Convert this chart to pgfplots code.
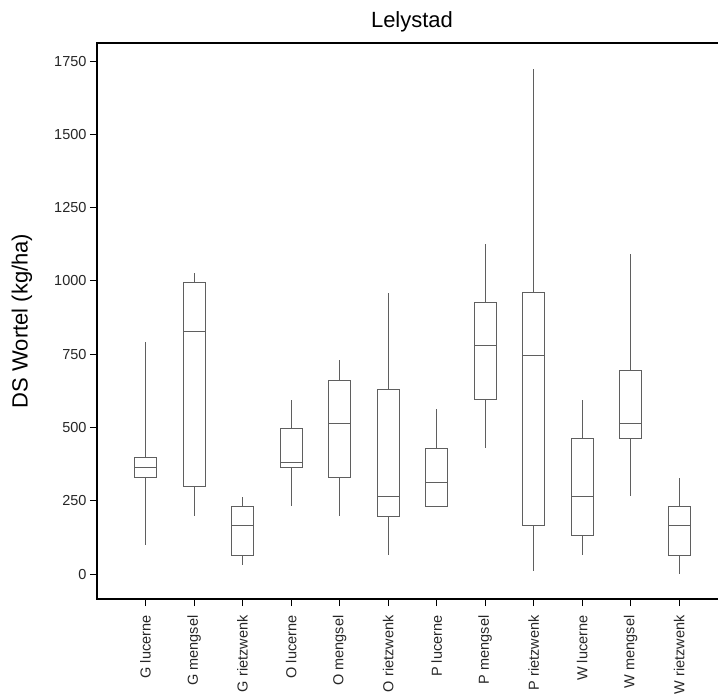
\documentclass[border=0pt]{standalone}
\usepackage{pgfplots}
\pgfplotsset{compat=1.18}
\usepgfplotslibrary{statistics}
\usepackage{fontspec}
\setmainfont{Liberation Sans}
\definecolor{boxgray}{RGB}{95,95,95}
\begin{document}
\begin{tikzpicture}
\useasboundingbox (-97pt,-95pt) rectangle (621pt,599pt);
\begin{axis}[
  at={(0,0)}, anchor=south west,
  scale only axis, width=630pt, height=556pt,
  xmin=0, xmax=12.985, ymin=-85, ymax=1812,
  axis line style={line width=1.5pt, black},
  xtick pos=left, ytick pos=left,
  tick align=outside,
  major tick length=7pt,
  tick style={black, line width=1pt},
  xtick={1,...,12},
  xticklabels={G lucerne,G mengsel,G rietzwenk,O lucerne,O mengsel,O rietzwenk,P lucerne,P mengsel,P rietzwenk,W lucerne,W mengsel,W rietzwenk},
  xticklabel style={rotate=90, anchor=east, xshift=-6pt, font=\fontsize{14.5}{17}\selectfont, text=black!85},
  ytick={0,250,...,1750},
  yticklabel style={font=\fontsize{14.5}{17}\selectfont, text=black!85},
  /pgf/number format/assume math mode=true,
  /pgf/number format/1000 sep={},
  title={Lelystad},
  title style={at={(axis description cs:0.5,1)}, anchor=base, yshift=9pt, xshift=0pt, font=\fontsize{22}{26}\selectfont},
  ylabel={DS Wortel (kg/ha)},
  every axis y label/.style={at={(axis description cs:0,0.5)}, xshift=-75pt, rotate=90, anchor=center, font=\fontsize{22}{26}\selectfont},
  boxplot/draw direction=y,
  boxplot/box extend=0.45,
  boxplot/whisker extend=0,
  clip=false,
]
\addplot[boxgray, line width=0.8pt, boxplot prepared={draw position=1, lower whisker=99, lower quartile=331, median=364, upper quartile=397, upper whisker=792}] coordinates {};
\addplot[boxgray, line width=0.8pt, boxplot prepared={draw position=2, lower whisker=198, lower quartile=298, median=828, upper quartile=994, upper whisker=1026}] coordinates {};
\addplot[boxgray, line width=0.8pt, boxplot prepared={draw position=3, lower whisker=32, lower quartile=65, median=165, upper quartile=231, upper whisker=264}] coordinates {};
\addplot[boxgray, line width=0.8pt, boxplot prepared={draw position=4, lower whisker=231, lower quartile=364, median=380, upper quartile=496, upper whisker=594}] coordinates {};
\addplot[boxgray, line width=0.8pt, boxplot prepared={draw position=5, lower whisker=198, lower quartile=331, median=514, upper quartile=662, upper whisker=730}] coordinates {};
\addplot[boxgray, line width=0.8pt, boxplot prepared={draw position=6, lower whisker=66, lower quartile=198, median=265, upper quartile=629, upper whisker=958}] coordinates {};
\addplot[boxgray, line width=0.8pt, boxplot prepared={draw position=7, lower whisker=232, lower quartile=232, median=313, upper quartile=429, upper whisker=562}] coordinates {};
\addplot[boxgray, line width=0.8pt, boxplot prepared={draw position=8, lower whisker=430, lower quartile=596, median=779, upper quartile=927, upper whisker=1125}] coordinates {};
\addplot[boxgray, line width=0.8pt, boxplot prepared={draw position=9, lower whisker=9, lower quartile=165, median=746, upper quartile=960, upper whisker=1722}] coordinates {};
\addplot[boxgray, line width=0.8pt, boxplot prepared={draw position=10, lower whisker=66, lower quartile=132, median=265, upper quartile=463, upper whisker=594}] coordinates {};
\addplot[boxgray, line width=0.8pt, boxplot prepared={draw position=11, lower whisker=265, lower quartile=463, median=514, upper quartile=695, upper whisker=1092}] coordinates {};
\addplot[boxgray, line width=0.8pt, boxplot prepared={draw position=12, lower whisker=0, lower quartile=65, median=165, upper quartile=231, upper whisker=329}] coordinates {};
\end{axis}
\end{tikzpicture}
\end{document}
